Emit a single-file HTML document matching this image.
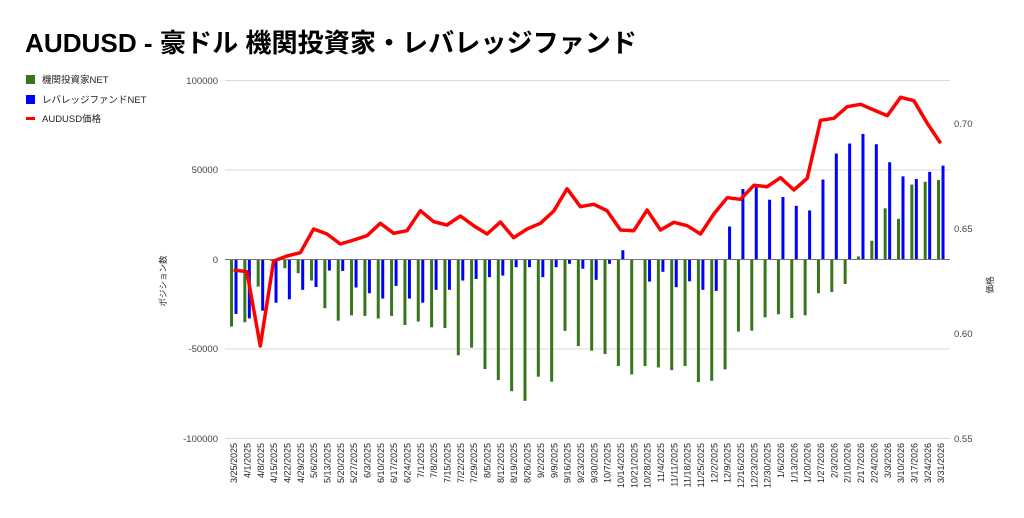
<!DOCTYPE html>
<html><head><meta charset="utf-8"><style>
html,body{margin:0;padding:0;background:#fff;width:1024px;height:518px;overflow:hidden}
svg{font-family:"Liberation Sans","Noto Sans CJK JP",sans-serif}
</style></head><body>
<svg id="s" width="1024" height="518" xmlns="http://www.w3.org/2000/svg">
<text x="25" y="52" font-size="26" font-weight="bold" fill="#000" textLength="612" lengthAdjust="spacingAndGlyphs">AUDUSD - 豪ドル 機関投資家・レバレッジファンド</text>
<rect x="26" y="75" width="9" height="9" fill="#38761d"/>
<text x="42" y="83" font-size="9.5" fill="#222">機関投資家NET</text>
<rect x="26" y="95" width="9" height="9" fill="#0000ff"/>
<text x="42" y="103" font-size="9.5" fill="#222">レバレッジファンドNET</text>
<rect x="26" y="117" width="9" height="3" fill="#ff0000"/>
<text x="42" y="122" font-size="9.5" fill="#222">AUDUSD価格</text>
<g stroke="#d9d9d9" stroke-width="1">
<line x1="225" x2="950" y1="80.5" y2="80.5"/>
<line x1="225" x2="950" y1="170" y2="170"/>
<line x1="225" x2="950" y1="349" y2="349"/>
<line x1="225" x2="950" y1="438.5" y2="438.5"/>
</g>
<g font-size="9.5" fill="#444" text-anchor="end">
<text x="218" y="84">100000</text>
<text x="218" y="173">50000</text>
<text x="218" y="263">0</text>
<text x="218" y="352">-50000</text>
<text x="218" y="442">-100000</text>
</g>
<g font-size="9.5" fill="#444">
<text x="954" y="127">0.70</text>
<text x="954" y="232">0.65</text>
<text x="954" y="337">0.60</text>
<text x="954" y="442">0.55</text>
</g>
<text transform="translate(166,281) rotate(-90)" font-size="8.5" text-anchor="middle" fill="#222">ポジション数</text>
<text transform="translate(993,285) rotate(-90)" font-size="8.5" text-anchor="middle" fill="#222">価格</text>
<g id="bars"></g>
<line x1="225" x2="950" y1="259.5" y2="259.5" stroke="#777" stroke-width="1"/>
<polyline id="red" fill="none" stroke="#ff0000" stroke-width="3.5" stroke-linejoin="round"/>
<g id="lbl" font-size="9" fill="#222" text-anchor="end">
<text>3/25/2025</text><text>4/1/2025</text><text>4/8/2025</text><text>4/15/2025</text><text>4/22/2025</text><text>4/29/2025</text><text>5/6/2025</text><text>5/13/2025</text><text>5/20/2025</text><text>5/27/2025</text><text>6/3/2025</text><text>6/10/2025</text><text>6/17/2025</text><text>6/24/2025</text><text>7/1/2025</text><text>7/8/2025</text><text>7/15/2025</text><text>7/22/2025</text><text>7/29/2025</text><text>8/5/2025</text><text>8/12/2025</text><text>8/19/2025</text><text>8/26/2025</text><text>9/2/2025</text><text>9/9/2025</text><text>9/16/2025</text><text>9/23/2025</text><text>9/30/2025</text><text>10/7/2025</text><text>10/14/2025</text><text>10/21/2025</text><text>10/28/2025</text><text>11/4/2025</text><text>11/11/2025</text><text>11/18/2025</text><text>11/25/2025</text><text>12/2/2025</text><text>12/9/2025</text><text>12/16/2025</text><text>12/23/2025</text><text>12/30/2025</text><text>1/6/2026</text><text>1/13/2026</text><text>1/20/2026</text><text>1/27/2026</text><text>2/3/2026</text><text>2/10/2026</text><text>2/17/2026</text><text>2/24/2026</text><text>3/3/2026</text><text>3/10/2026</text><text>3/17/2026</text><text>3/24/2026</text><text>3/31/2026</text>
</g>
</svg>
<script>
var G=[-37.6,-35.2,-15.2,-0.8,-4.9,-7.7,-11.8,-27.3,-34.3,-31.3,-31.6,-33.1,-31.6,-36.7,-34.8,-38,-38.4,-53.7,-49.4,-61.4,-67.6,-73.8,-79.2,-65.7,-68.5,-40,-48.5,-51.1,-53,-59.7,-64.4,-59.7,-60.5,-62,-59.7,-68.7,-68,-61.6,-40.4,-39.9,-32.4,-30.7,-32.8,-31.3,-18.9,-18.2,-13.7,1.7,10.5,28.7,22.8,42,43.6,44.6];
var B=[-30.5,-33,-28.7,-24.2,-22.3,-17,-15.4,-6.2,-6.4,-15.7,-18.9,-21.9,-14.8,-21.9,-24.2,-17,-17,-11.8,-10.9,-9.9,-9,-4.3,-4.3,-9.9,-4.3,-2.4,-5.2,-11.4,-2.4,5.2,0,-12.4,-6.9,-15.5,-12.2,-17,-17.6,18.5,39.5,41.4,33.5,35,30.1,27.5,44.8,59.4,65,70.4,64.6,54.5,46.6,45.1,49.1,52.6];
var R=[630,635,858,603,588,578,507,522,552,540,527,490,520,512,452,485,495,468,497,522,486,533,507,490,453,386,440,433,452,510,512,450,510,487,497,522,462,413,418,376,380,353,390,355,181,175,140,133,150,167,112,122,190,250];
var ns="http://www.w3.org/2000/svg",bars=document.getElementById("bars"),pts=[];
function y(v){return 259.5-v/50*89.2;}
function rect(x,v,c){var r=document.createElementNS(ns,"rect");var a=y(v);r.setAttribute("x",x);r.setAttribute("width",3);r.setAttribute("y",Math.min(a,259.5));r.setAttribute("height",Math.abs(a-259.5));r.setAttribute("fill",c);bars.appendChild(r);}
var L=document.getElementById("lbl").children;
for(var i=0;i<54;i++){var c=233.6+13.34*i;rect(c-3.6,G[i],"#38761d");rect(c+0.9,B[i],"#0000ff");pts.push(c.toFixed(1)+","+(60+R[i]/3).toFixed(1));
L[i].setAttribute("transform","translate("+(c+3.5).toFixed(1)+",443) rotate(-90)");}
document.getElementById("red").setAttribute("points",pts.join(" "));
</script>
</body></html>
